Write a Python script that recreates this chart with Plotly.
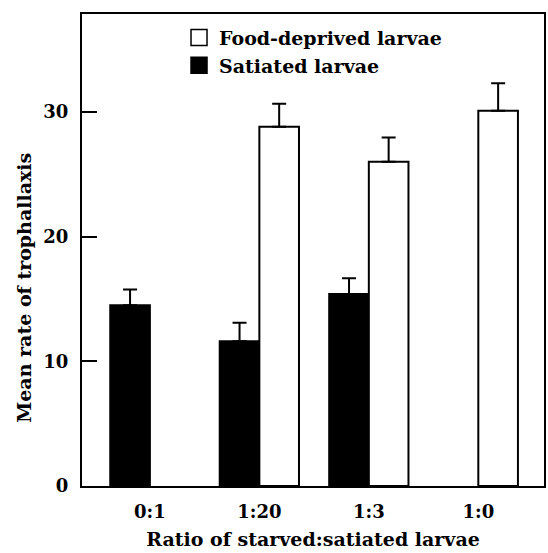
import plotly.graph_objects as go

categories = ["0:1", "1:20", "1:3", "1:0"]
satiated = [14.5, 11.6, 15.4, None]
satiated_err = [1.25, 1.5, 1.25, None]
deprived = [None, 28.8, 26.0, 30.1]
deprived_err = [None, 1.85, 1.95, 2.2]
y_ticks = [0, 10, 20, 30]

FONT = "DejaVu Serif"
BOLD = dict(family=FONT, color="black", weight="bold")

fig = go.Figure()
fig.add_trace(go.Bar(
    name="Satiated larvae", x=categories, y=satiated, showlegend=False,
    marker=dict(color="black", line=dict(color="black", width=2)),
    error_y=dict(type="data", symmetric=False, array=satiated_err,
                 arrayminus=[0 if v is not None else None for v in satiated_err],
                 color="black", thickness=2, width=7),
))
fig.add_trace(go.Bar(
    name="Food-deprived larvae", x=categories, y=deprived, showlegend=False,
    marker=dict(color="white", line=dict(color="black", width=2)),
    error_y=dict(type="data", symmetric=False, array=deprived_err,
                 arrayminus=[0 if v is not None else None for v in deprived_err],
                 color="black", thickness=2, width=7),
))
# legend entries with larger square swatches
fig.add_trace(go.Scatter(name="Satiated larvae", x=[None], y=[None], mode="markers",
                         marker=dict(symbol="square", size=18, color="black",
                                     line=dict(color="black", width=1.5))))
fig.add_trace(go.Scatter(name="Food-deprived larvae", x=[None], y=[None], mode="markers",
                         marker=dict(symbol="square", size=18, color="white",
                                     line=dict(color="black", width=1.5))))

fig.update_layout(
    width=548, height=553,
    margin=dict(l=82, r=2, t=14, b=67),
    paper_bgcolor="white", plot_bgcolor="white",
    barmode="group", bargap=0.276, bargroupgap=0,
    font=dict(size=18, **BOLD),
    showlegend=True,
    legend=dict(x=0.21, y=0.99, xanchor="left", yanchor="top",
                traceorder="reversed", bgcolor="rgba(0,0,0,0)",
                font=dict(size=19, **BOLD), itemsizing="trace",
                itemwidth=30, tracegroupgap=0),
    xaxis=dict(range=[-0.62, 3.6], showline=True, linecolor="black", linewidth=2,
               mirror=True, ticks="", showgrid=False, zeroline=False,
               ticklabelstandoff=8,
               tickfont=dict(size=18, **BOLD),
               title=dict(text="Ratio of starved:satiated larvae", standoff=12,
                          font=dict(size=19, **BOLD))),
    yaxis=dict(range=[0, 37.85], showline=True, linecolor="black", linewidth=2,
               mirror=True, ticks="inside", ticklen=15, tickwidth=1.5, tickcolor="black",
               tickvals=y_ticks, showgrid=False, zeroline=False,
               ticklabelstandoff=8,
               tickfont=dict(size=18, **BOLD)),
    annotations=[dict(text="Mean rate of trophallaxis", textangle=-90,
                      xref="paper", yref="paper", x=0, y=0.42,
                      xanchor="center", yanchor="middle", xshift=-58,
                      showarrow=False, font=dict(size=19, **BOLD))],
)

fig.write_html("out.html", config={"displayModeBar": False},
               post_script="document.body.style.margin='0';")
